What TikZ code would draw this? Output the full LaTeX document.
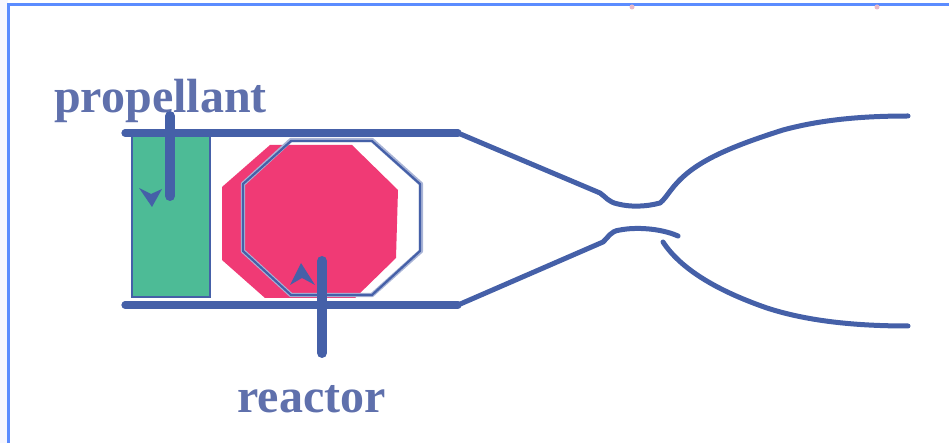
\documentclass[tikz,border=0pt]{standalone}
\usepackage{fontspec}
\setmainfont{Liberation Serif}
\definecolor{linecol}{HTML}{4560A8}
\definecolor{textcol}{HTML}{5F70AC}
\definecolor{framecol}{HTML}{5B8CFF}
\definecolor{propcol}{HTML}{4DBB96}
\definecolor{reactcol}{HTML}{F03A75}
\definecolor{haze}{HTML}{A9B4D6}
\definecolor{speck}{HTML}{E8B8C8}
\tikzset{
  wall/.style={draw=linecol,line width=3.6pt,line cap=round,line join=round},
  nozzle/.style={draw=linecol,line width=2.5pt,line cap=round,line join=round},
  pointer/.style={draw=linecol,line width=5pt,line cap=round},
  tip/.style={fill=linecol,draw=none},
  labeltext/.style={text=textcol,inner sep=0pt,font=\fontsize{24}{28}\bfseries\selectfont,anchor=base}
}
\begin{document}
\begin{tikzpicture}[x=0.5pt,y=-0.5pt]
\useasboundingbox (0,0) rectangle (949,443);
\fill[blue!3] (0,0) rectangle (8,443);
\draw[framecol,line width=1.5pt] (8,443) -- (8,5) -- (949,5);
\fill[speck] (632,7) circle (2.5);
\fill[speck] (877,7) circle (2.5);
% propellant
\draw[fill=propcol,draw=linecol,line width=1.1pt] (132,136) rectangle (210,297);
% reactor
\fill[reactcol] (270,145) -- (352,145) -- (398,190) -- (396,258) -- (355,298) -- (265,298) -- (222,260) -- (222,187) -- cycle;
\draw[haze,line width=2.2pt,line join=round] (291,140) -- (372,140) -- (421,184) -- (421,251) -- (372,295) -- (291,295) -- (243,251) -- (243,184) -- cycle;
\draw[linecol,line width=1.1pt,line join=round] (291,141) -- (372,141) -- (420,184) -- (420,251) -- (372,295) -- (291,295) -- (243,251) -- (243,184) -- cycle;
% walls
\coordinate (tl) at (125,133); \coordinate (tr) at (458,133);
\coordinate (bl) at (125,305); \coordinate (br) at (458,305);
\draw[wall] (tl) -- (tr);
\draw[wall] (bl) -- (br);
% nozzle
\draw[nozzle] (tr) -- (600,193) .. controls (606,197) and (608,202) .. (618,204)
  .. controls (630,207) and (645,207) .. (660,203) .. controls (664,200) and (667,195) .. (671,190)
  .. controls (690,165) and (720,150) .. (783,130) .. controls (820,120) and (860,116) .. (908,116);
\draw[nozzle] (br) -- (603,242) .. controls (608,238) and (610,231) .. (620,230)
  .. controls (635,227) and (660,228) .. (678,236);
\coordinate (dstart) at (663,242);
\coordinate (dend) at (908,326);
\draw[nozzle] (dstart) .. controls (680,268) and (715,290) .. (767,308) .. controls (810,322) and (860,326) .. (dend);
% labels
\node[labeltext] (prop) at (160.5,113) {propellant};
\node[labeltext] (reac) at (311.5,413) {reactor};
% pointers
\coordinate (p1) at (170,116); \coordinate (p2) at (170,196);
\coordinate (r1) at (322,261); \coordinate (r2) at (322,353);
\draw[pointer] (p1) -- (p2);
\draw[pointer] (r1) -- (r2);
\fill[tip] (139,188) -- (151,194) -- (162,189) -- (152,207) -- cycle;
\fill[tip] (301,263) -- (315,285) -- (302,278) -- (290,285) -- cycle;
\end{tikzpicture}
\end{document}
